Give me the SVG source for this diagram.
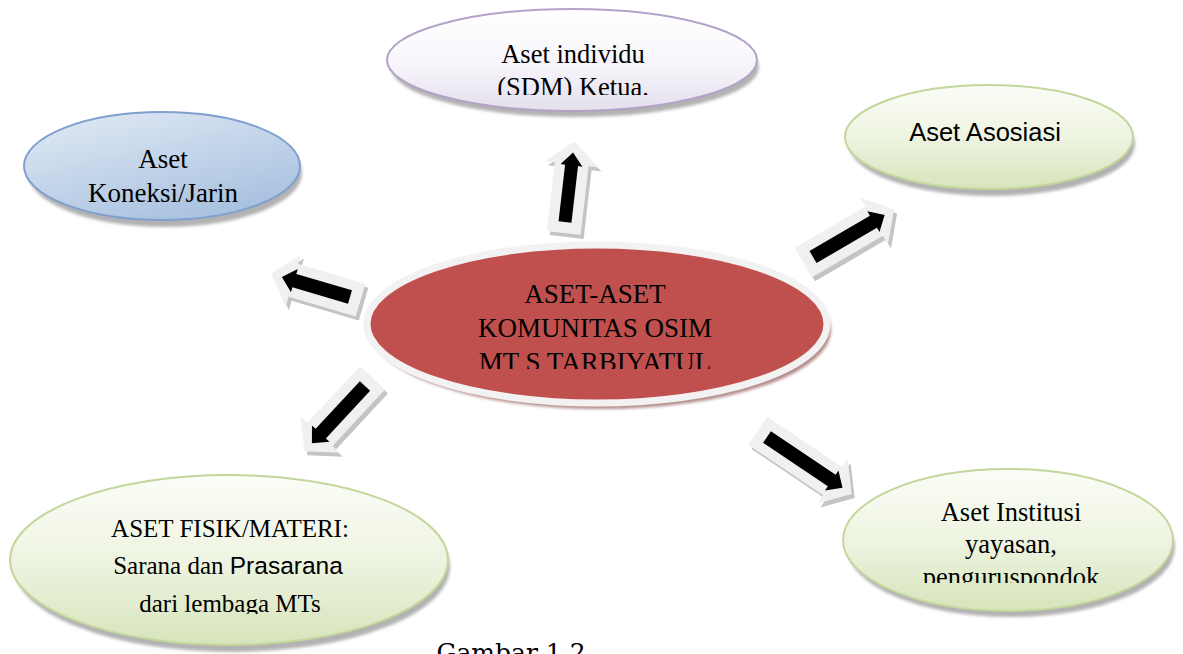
<svg xmlns="http://www.w3.org/2000/svg" width="1183" height="654" viewBox="0 0 1183 654">
<defs>
<linearGradient id="gPurple" x1="0" y1="0" x2="0" y2="1">
<stop offset="0" stop-color="#ffffff"/><stop offset="0.55" stop-color="#f7f5fa"/><stop offset="1" stop-color="#e4dfec"/>
</linearGradient>
<linearGradient id="gBlue" x1="0" y1="0" x2="0.6" y2="1">
<stop offset="0" stop-color="#e3ebf5"/><stop offset="1" stop-color="#a9c2e0"/>
</linearGradient>
<linearGradient id="gGreen" x1="0" y1="0" x2="0" y2="1">
<stop offset="0" stop-color="#fbfdf7"/><stop offset="0.5" stop-color="#eef4e1"/><stop offset="1" stop-color="#d6e4bb"/>
</linearGradient>
<filter id="blur" x="-10%" y="-10%" width="120%" height="130%"><feGaussianBlur stdDeviation="1.6"/></filter>
<clipPath id="cTop"><rect x="380" y="0" width="400" height="95"/></clipPath>
<clipPath id="cCenter"><rect x="360" y="240" width="480" height="129"/></clipPath>
<clipPath id="cBL"><rect x="0" y="460" width="460" height="154"/></clipPath>
<clipPath id="cBR"><rect x="830" y="460" width="353" height="123"/></clipPath>
</defs>
<style>
.shadow{fill:#8a8a8a;opacity:0.65;filter:url(#blur)}
.purple{fill:url(#gPurple);stroke:#b3a2c7;stroke-width:2}
.blue{fill:url(#gBlue);stroke:#7f9fcf;stroke-width:2}
.green{fill:url(#gGreen);stroke:#c3d69b;stroke-width:2}
.red{fill:#c0504d;stroke:#f2f2f2;stroke-width:7}
.redsh{fill:#b58d8c;filter:url(#blur)}
.serif{font-family:"Liberation Serif","Times New Roman",serif;fill:#000;text-anchor:middle}
.sans{font-family:"Liberation Sans",Arial,sans-serif;fill:#000}
.ash{fill:#c4c4c4}
.aout{fill:#f0f0f0}
.ain{fill:#000}
</style>
<rect width="1183" height="654" fill="#ffffff"/>

<g id="connectors">
<g id="arrow-up">
<path class="ash" transform="translate(568,226) rotate(-83.4)" d="M-11,-17 L58,-17 L58,-27 L81,0 L58,27 L58,17 L-11,17 Z"/>
<path class="aout" transform="translate(565,222) rotate(-83.4)" d="M-11,-17 L58,-17 L58,-27 L81,0 L58,27 L58,17 L-11,17 Z"/>
<path class="ain" transform="translate(565,222) rotate(-83.4)" d="M0,-6.5 L57,-6.5 L57,-11 L70,0 L57,11 L57,6.5 L0,6.5 Z"/>
</g>
<g id="arrow-left">
<path class="ash" transform="translate(353,301) rotate(-163.6)" d="M-11,-17 L59,-17 L59,-27 L82,0 L59,27 L59,17 L-11,17 Z"/>
<path class="aout" transform="translate(350,297) rotate(-163.6)" d="M-11,-17 L59,-17 L59,-27 L82,0 L59,27 L59,17 L-11,17 Z"/>
<path class="ain" transform="translate(350,297) rotate(-163.6)" d="M0,-7 L58,-7 L58,-12 L71,0 L58,12 L58,7 L0,7 Z"/>
</g>
<g id="arrow-downleft">
<path class="ash" transform="translate(368,390) rotate(132.9)" d="M-11,-17 L66,-17 L66,-27 L89,0 L66,27 L66,17 L-11,17 Z"/>
<path class="aout" transform="translate(365,386) rotate(132.9)" d="M-11,-17 L66,-17 L66,-27 L89,0 L66,27 L66,17 L-11,17 Z"/>
<path class="ain" transform="translate(365,386) rotate(132.9)" d="M0,-7 L65,-7 L65,-12 L78,0 L65,12 L65,7 L0,7 Z"/>
</g>
<g id="arrow-upright">
<path class="ash" transform="translate(816,261) rotate(-30.3)" d="M-11,-17 L71,-17 L71,-27 L94,0 L71,27 L71,17 L-11,17 Z"/>
<path class="aout" transform="translate(813,257) rotate(-30.3)" d="M-11,-17 L71,-17 L71,-27 L94,0 L71,27 L71,17 L-11,17 Z"/>
<path class="ain" transform="translate(813,257) rotate(-30.3)" d="M0,-7 L70,-7 L70,-12 L83,0 L70,12 L70,7 L0,7 Z"/>
</g>
<g id="arrow-downright">
<path class="ash" transform="translate(770,441) rotate(33.9)" d="M-11,-17 L79,-17 L79,-27 L102,0 L79,27 L79,17 L-11,17 Z"/>
<path class="aout" transform="translate(767,437) rotate(33.9)" d="M-11,-17 L79,-17 L79,-27 L102,0 L79,27 L79,17 L-11,17 Z"/>
<path class="ain" transform="translate(767,437) rotate(33.9)" d="M0,-7 L78,-7 L78,-12 L91,0 L78,12 L78,7 L0,7 Z"/>
</g>
</g>

<g id="node-center">
<ellipse class="redsh" cx="601" cy="330" rx="230" ry="79"/>
<ellipse class="red" cx="597" cy="324" rx="230" ry="79"/>
<g clip-path="url(#cCenter)" class="serif" font-size="27">
<text x="595" y="303">ASET-ASET</text>
<text x="595" y="337">KOMUNITAS OSIM</text>
<text x="595" y="371">MT S TARBIYATUL</text>
</g>
</g>

<g id="node-individu">
<ellipse class="shadow" cx="575" cy="67" rx="184" ry="50"/>
<ellipse class="purple" cx="572" cy="60" rx="185" ry="51"/>
<g clip-path="url(#cTop)" class="serif" font-size="26.5">
<text x="573" y="63">Aset individu</text>
<text x="573" y="96">(SDM) Ketua.</text>
</g>
</g>

<g id="node-koneksi">
<ellipse class="shadow" cx="165" cy="173" rx="137" ry="54"/>
<ellipse class="blue" cx="162" cy="166" rx="138" ry="54"/>
<g class="serif" font-size="27">
<text x="163" y="168">Aset</text>
<text x="163" y="202">Koneksi/Jarin</text>
</g>
</g>

<g id="node-asosiasi">
<ellipse class="shadow" cx="992" cy="144" rx="143" ry="52"/>
<ellipse class="green" cx="989" cy="137" rx="144" ry="52"/>
<text class="sans" x="985" y="141" font-size="25.5" text-anchor="middle">Aset Asosiasi</text>
</g>

<g id="node-fisik">
<ellipse class="shadow" cx="232" cy="567" rx="218" ry="85"/>
<ellipse class="green" cx="229" cy="560" rx="219" ry="85"/>
<g clip-path="url(#cBL)" class="serif" font-size="25">
<text x="230" y="537">ASET FISIK/MATERI:</text>
<text x="228" y="574">Sarana dan <tspan style="font-family:'Liberation Sans',Arial,sans-serif" font-size="24.5">Prasarana</tspan></text>
<text x="230" y="612">dari lembaga MTs</text>
</g>
</g>

<g id="node-institusi">
<ellipse class="shadow" cx="1011" cy="547" rx="164" ry="70"/>
<ellipse class="green" cx="1008" cy="540" rx="165" ry="71"/>
<g clip-path="url(#cBR)" class="serif" font-size="26.5">
<text x="1011" y="521">Aset Institusi</text>
<text x="1011" y="553">yayasan,</text>
<text x="1011" y="586">penguruspondok</text>
</g>
</g>

<text x="511" y="661" font-family="'DejaVu Serif',serif" font-size="25" text-anchor="middle" fill="#000">Gambar 1.2</text>
</svg>
